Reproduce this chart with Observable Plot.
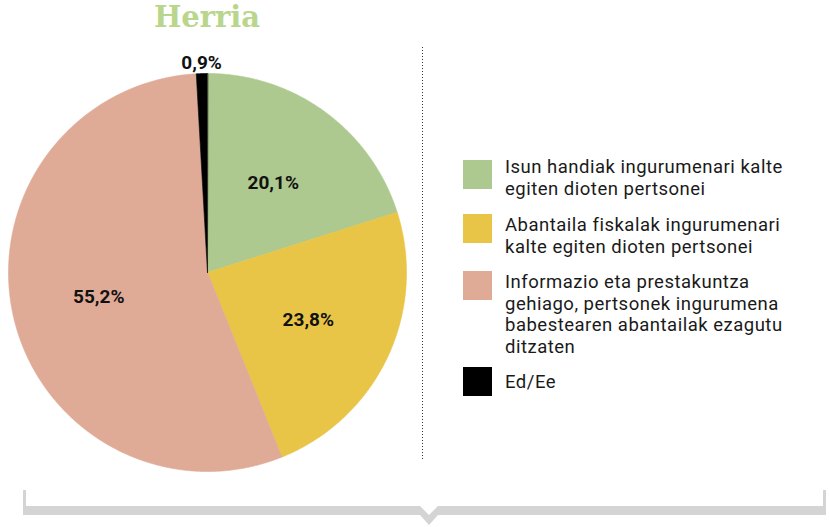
<!DOCTYPE html>
<html>
<head>
<meta charset="utf-8">
<script src="https://cdn.jsdelivr.net/npm/d3@7"></script>
<script src="https://cdn.jsdelivr.net/npm/@observablehq/plot@0.6"></script>
<style>
  html, body { margin: 0; padding: 0; background: #fff; }
  #wrap { position: relative; width: 829px; height: 527px; overflow: hidden; font-family: Roboto, "DejaVu Sans", sans-serif; }
  #chart { position: absolute; left: 0; top: 0; }
  #title { position: absolute; left: 107px; width: 200px; top: 3px; text-align: center;
    font-family: "DejaVu Serif", serif; font-weight: bold; font-size: 29px; line-height: 29px; color: #b9d68c; }
  .sw { position: absolute; left: 463px; width: 29px; height: 29px; }
  .lt { position: absolute; left: 505px; width: 324px; font-size: 18.5px; letter-spacing: 0.5px; line-height: 21.5px; color: #1a1a1a; white-space: nowrap; }
  #deco { position: absolute; left: 0; top: 0; pointer-events: none; }
</style>
</head>
<body>
<div id="wrap">
  <div id="chart"></div>
  <div id="title"></div>
  <div id="legend"></div>
  <svg id="deco" width="829" height="527"></svg>
</div>
<script>
// ---- data ----
const title = "Herria";
const categories = [
  "Isun handiak ingurumenari kalte egiten dioten pertsonei",
  "Abantaila fiskalak ingurumenari kalte egiten dioten pertsonei",
  "Informazio eta prestakuntza gehiago, pertsonek ingurumena babestearen abantailak ezagutu ditzaten",
  "Ed/Ee"
];
const legendLines = [
  ["Isun handiak ingurumenari kalte", "egiten dioten pertsonei"],
  ["Abantaila fiskalak ingurumenari", "kalte egiten dioten pertsonei"],
  ["Informazio eta prestakuntza", "gehiago, pertsonek ingurumena", "babestearen abantailak ezagutu", "ditzaten"],
  ["Ed/Ee"]
];
const values = [20.1, 23.8, 55.2, 0.9];
const valueLabels = ["20,1%", "23,8%", "55,2%", "0,9%"];
const colors = ["#adc98f", "#e8c547", "#dfaa96", "#000000"];

// ---- slice geometry from values (clockwise from 12 o'clock) ----
const total = d3.sum(values);
const slices = [];
const labels = [];
let acc = 0;
categories.forEach((cat, i) => {
  const a0 = acc / total * 2 * Math.PI;
  acc += values[i];
  const a1 = acc / total * 2 * Math.PI;
  const n = Math.max(2, Math.ceil((a1 - a0) / (Math.PI / 360)));
  slices.push({cat, x: 0, y: 0});
  for (let k = 0; k <= n; k++) {
    const a = a0 + (a1 - a0) * k / n;
    slices.push({cat, x: Math.sin(a), y: Math.cos(a)});
  }
  const am = (a0 + a1) / 2;
  const r = values[i] < 5 ? 1.055 : 0.56;
  labels.push({cat, label: valueLabels[i], x: r * Math.sin(am), y: r * Math.cos(am)});
});

const cx = 207, cy = 272, R = 199;
const chart = Plot.plot({
  width: 829,
  height: 527,
  margin: 0,
  x: {domain: [-1, 1], range: [cx - R, cx + R], axis: null},
  y: {domain: [-1, 1], range: [cy + R, cy - R], axis: null},
  color: {domain: categories, range: colors},
  style: {fontFamily: "Roboto, 'DejaVu Sans', sans-serif", background: "transparent"},
  marks: [
    Plot.line(slices, {x: "x", y: "y", z: "cat", fill: "cat", stroke: "cat", strokeWidth: 0.6, curve: "linear-closed"}),
    Plot.text(labels, {x: "x", y: "y", text: "label", fontSize: 19, fontWeight: "bold", fill: "#111"})
  ]
});
document.getElementById("chart").appendChild(chart);
document.getElementById("title").textContent = title;

// ---- legend ----
const swatchTops = [160, 214, 271, 367];
const textTops = [157, 215, 272, 372];
const legend = document.getElementById("legend");
legendLines.forEach((lines, i) => {
  const sw = document.createElement("div");
  sw.className = "sw";
  sw.style.top = swatchTops[i] + "px";
  sw.style.background = colors[i];
  legend.appendChild(sw);
  const t = document.createElement("div");
  t.className = "lt";
  t.style.top = textTops[i] + "px";
  t.innerHTML = lines.join("<br>");
  legend.appendChild(t);
});

// ---- decorations: dotted separator and bottom brace ----
const deco = d3.select("#deco");
deco.append("line").attr("x1", 422.5).attr("x2", 422.5).attr("y1", 47).attr("y2", 460)
  .attr("stroke", "#333").attr("stroke-width", 1).attr("stroke-dasharray", "1,2");
deco.append("path")
  .attr("d", "M23,490 H26 V506 H420 L429,515 L438,506 H823 V490 H826 V515 H438 L429,525 L420,515 H23 Z")
  .attr("fill", "#d4d4d4");
</script>
</body>
</html>
